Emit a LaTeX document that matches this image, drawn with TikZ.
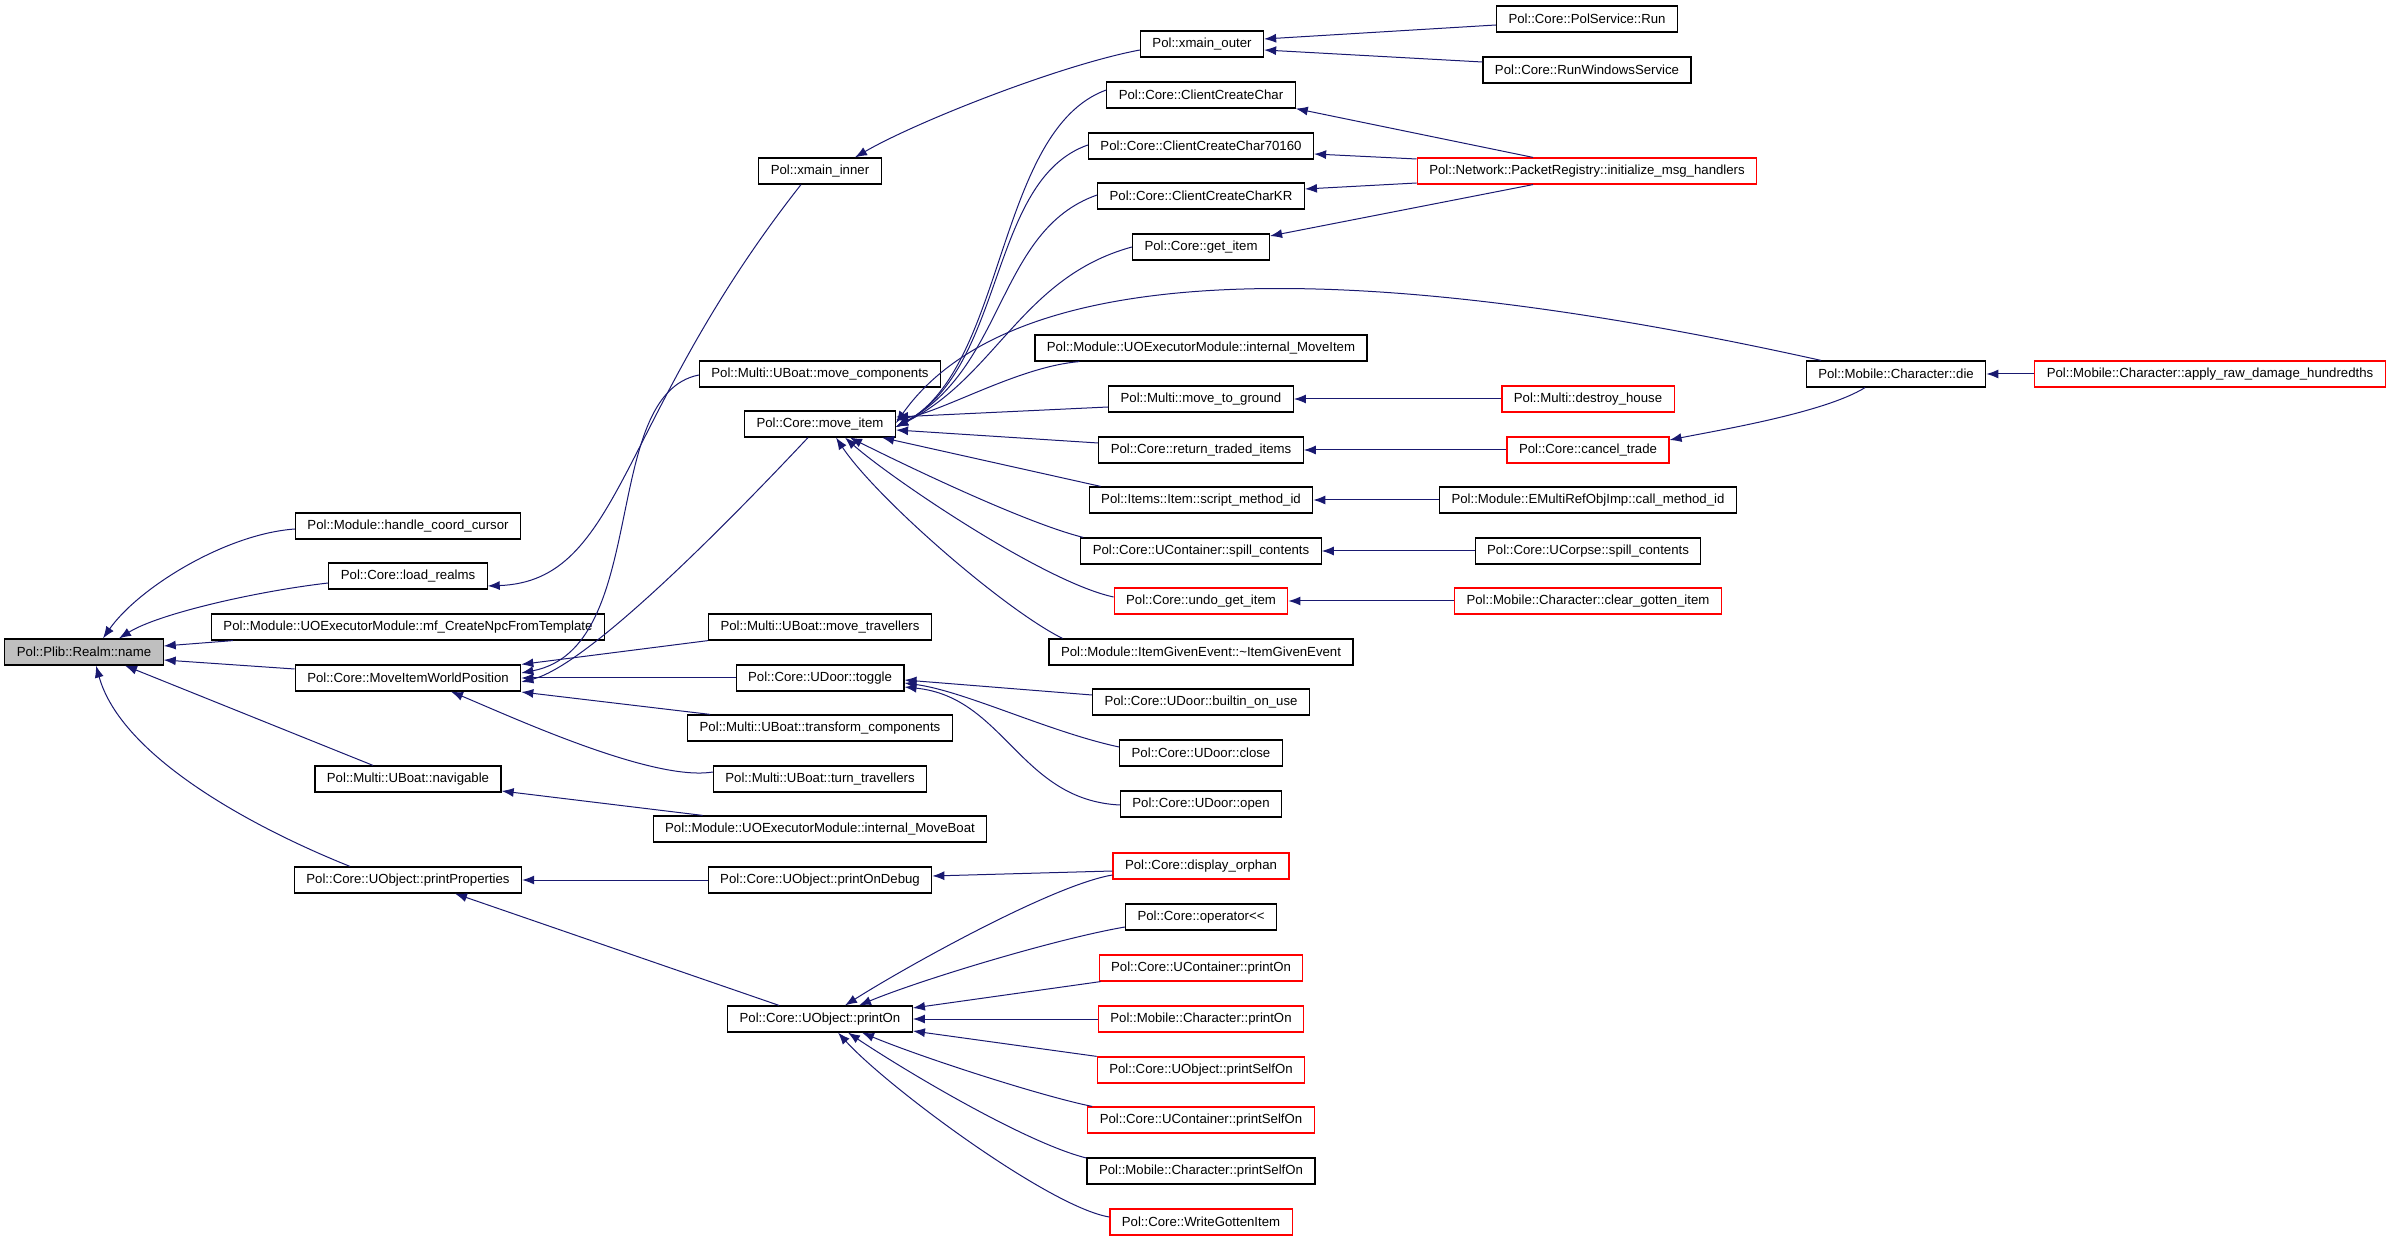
\documentclass[tikz,border=0pt]{standalone}
\usepackage{fontspec}
\setmainfont{Liberation Sans}
\usetikzlibrary{calc, arrows.meta}
\definecolor{edgeblue}{HTML}{191970}
\definecolor{boxred}{HTML}{FF0000}

\begin{document}
\begin{tikzpicture}[x=0.5pt, y=0.5pt,
	fn/.style={draw, line width=0.6pt, font=\fontsize{6.6}{8}\selectfont, minimum height=13pt, inner xsep=6pt, inner ysep=0pt},
	fnred/.style={fn, draw=boxred},
	>={Latex[length=6pt, width=4.5pt]},
	calls/.style={edgeblue, line width=0.5pt, <-}]
			\useasboundingbox (0,0) rectangle (2389,-1240);

			\node (realm) [fn, fill=black!25] at (84,-652) {Pol::Plib::Realm::name};

			\node (hcc) [fn] at (408,-526) {Pol::Module::handle\_coord\_cursor};
			\node (loadr) [fn] at (408,-576) {Pol::Core::load\_realms};
			\node (mfnpc) [fn] at (408,-627) {Pol::Module::UOExecutorModule::mf\_CreateNpcFromTemplate};
			\node (miwp) [fn] at (408,-678) {Pol::Core::MoveItemWorldPosition};
			\node (navig) [fn] at (408,-779) {Pol::Multi::UBoat::navigable};
			\node (pprops) [fn] at (408,-880) {Pol::Core::UObject::printProperties};

			\node (xinner) [fn] at (820,-171) {Pol::xmain\_inner};
			\node (movecomp) [fn] at (820,-374) {Pol::Multi::UBoat::move\_components};
			\node (moveitem) [fn] at (820,-424) {Pol::Core::move\_item};
			\node (movetrav) [fn] at (820,-627) {Pol::Multi::UBoat::move\_travellers};
			\node (toggle) [fn] at (820,-678) {Pol::Core::UDoor::toggle};
			\node (transf) [fn] at (820,-728) {Pol::Multi::UBoat::transform\_components};
			\node (turntrav) [fn] at (820,-779) {Pol::Multi::UBoat::turn\_travellers};
			\node (moveboat) [fn] at (820,-829) {Pol::Module::UOExecutorModule::internal\_MoveBoat};
			\node (podebug) [fn] at (820,-880) {Pol::Core::UObject::printOnDebug};
			\node (printon) [fn] at (820,-1019) {Pol::Core::UObject::printOn};

			\node (xouter) [fn] at (1202,-44) {Pol::xmain\_outer};
			\node (ccc) [fn] at (1201,-95) {Pol::Core::ClientCreateChar};
			\node (ccc70) [fn] at (1201,-146) {Pol::Core::ClientCreateChar70160};
			\node (ccckr) [fn] at (1201,-196) {Pol::Core::ClientCreateCharKR};
			\node (getitem) [fn] at (1201,-247) {Pol::Core::get\_item};
			\node (intmove) [fn] at (1201,-348) {Pol::Module::UOExecutorModule::internal\_MoveItem};
			\node (mtg) [fn] at (1201,-399) {Pol::Multi::move\_to\_ground};
			\node (rti) [fn] at (1201,-450) {Pol::Core::return\_traded\_items};
			\node (smid) [fn] at (1201,-500) {Pol::Items::Item::script\_method\_id};
			\node (cspill) [fn] at (1201,-551) {Pol::Core::UContainer::spill\_contents};
			\node (undo) [fnred] at (1201,-601) {Pol::Core::undo\_get\_item};
			\node (ige) [fn] at (1201,-652) {Pol::Module::ItemGivenEvent::\textasciitilde ItemGivenEvent};
			\node (builtin) [fn] at (1201,-702) {Pol::Core::UDoor::builtin\_on\_use};
			\node (dclose) [fn] at (1201,-753) {Pol::Core::UDoor::close};
			\node (dopen) [fn] at (1201,-804) {Pol::Core::UDoor::open};
			\node (orphan) [fnred] at (1201,-866) {Pol::Core::display\_orphan};
			\node (oplt) [fn] at (1201,-917) {Pol::Core::operator<\kern0pt<};
			\node (ucpon) [fnred] at (1201,-968) {Pol::Core::UContainer::printOn};
			\node (mcpon) [fnred] at (1201,-1019) {Pol::Mobile::Character::printOn};
			\node (uopso) [fnred] at (1201,-1070) {Pol::Core::UObject::printSelfOn};
			\node (ucpso) [fnred] at (1201,-1120) {Pol::Core::UContainer::printSelfOn};
			\node (mcpso) [fn] at (1201,-1171) {Pol::Mobile::Character::printSelfOn};
			\node (wgi) [fnred] at (1201,-1222) {Pol::Core::WriteGottenItem};

			\node (polrun) [fn] at (1587,-19) {Pol::Core::PolService::Run};
			\node (runwin) [fn] at (1587,-70) {Pol::Core::RunWindowsService};
			\node (initmsg) [fnred] at (1587,-171) {Pol::Network::PacketRegistry::initialize\_msg\_handlers};
			\node (destroy) [fnred] at (1588,-399) {Pol::Multi::destroy\_house};
			\node (canceltrade) [fnred] at (1588,-450) {Pol::Core::cancel\_trade};
			\node (callmid) [fn] at (1588,-500) {Pol::Module::EMultiRefObjImp::call\_method\_id};
			\node (corpse) [fn] at (1588,-551) {Pol::Core::UCorpse::spill\_contents};
			\node (clearg) [fnred] at (1588,-601) {Pol::Mobile::Character::clear\_gotten\_item};

			\node (die) [fn] at (1896,-374) {Pol::Mobile::Character::die};
			\node (applydmg) [fnred] at (2210,-374) {Pol::Mobile::Character::apply\_raw\_damage\_hundredths};

			\draw [calls] ($(realm.north)+(19,0)$) .. controls +(35,50) and +(-70,-5) .. ($(hcc.west)+(0,-3)$);
			\draw [calls] ($(realm.north)+(35,0)$) .. controls +(40,25) and +(-70,-8) .. ($(loadr.west)+(0,-7)$);
			\draw [calls] ($(realm.east)+(0,6)$) -- ($(mfnpc.south west)+(22,0)$);
			\draw [calls] ($(realm.east)+(0,-8)$) -- ($(miwp.west)+(0,9)$);
			\draw [calls] ($(realm.south)+(41,0)$) -- ($(navig.north)+(-35,0)$);
			\draw [calls] ($(realm.south)+(12,0)$) .. controls +(25,-90) and +(-100,40) .. ($(pprops.north)+(-58,0)$);

			\draw [calls] ($(loadr.east)+(0,-10)$) .. controls +(135,5) and +(-185,-235) .. ($(xinner.south)+(-19,0)$);
			\draw [calls] ($(xinner.north)+(35,0)$) .. controls +(60,35) and +(-80,-15) .. ($(xouter.west)+(0,-6)$);
			\draw [calls] ($(xouter.east)+(0,5)$) -- ($(polrun.west)+(0,-6)$);
			\draw [calls] ($(xouter.east)+(0,-6)$) -- ($(runwin.west)+(0,8)$);

			\draw [calls] ($(miwp.east)+(0,5)$) .. controls +(130,25) and +(-100,-20) .. ($(movecomp.west)+(0,-1)$);
			\draw [calls] ($(miwp.east)+(0,-4)$) .. controls +(60,15) and +(-110,-117) .. ($(moveitem.south)+(-12,0)$);
			\draw [calls] (miwp.north east) -- (movetrav.south west);
			\draw [calls] (miwp.east) -- (toggle.west);
			\draw [calls] ($(miwp.east)+(0,-14)$) -- ($(transf.north west)+(23,0)$);
			\draw [calls] ($(miwp.south)+(43,0)$) .. controls +(60,-25) and +(-60,-10) .. ($(turntrav.west)+(0,7)$);
			\draw [calls] ($(navig.east)+(0,-12)$) -- ($(moveboat.north west)+(50,0)$);
			\draw [calls] (pprops.east) -- (podebug.west);
			\draw [calls] ($(pprops.south)+(47,0)$) -- ($(printon.north)+(-41,0)$);

			\draw [calls] ($(moveitem.east)+(0,-3)$) .. controls +(110,60) and +(-110,-40) .. ($(ccc.west)+(0,5)$);
			\draw [calls] ($(moveitem.east)+(0,-3)$) .. controls +(110,60) and +(-100,-35) .. ($(ccc70.west)+(0,1)$);
			\draw [calls] ($(moveitem.east)+(0,-3)$) .. controls +(110,60) and +(-100,-35) .. ($(ccckr.west)+(0,1)$);
			\draw [calls] ($(moveitem.east)+(0,-3)$) .. controls +(100,50) and +(-110,-30) .. (getitem.west);
			\draw [calls] ($(moveitem.east)+(0,1)$) .. controls +(120,170) and +(-450,100) .. ($(die.north)+(-75,0)$);
			\draw [calls] ($(moveitem.east)+(0,4)$) .. controls +(50,10) and +(-60,-5) .. ($(intmove.south west)+(45,0)$);
			\draw [calls] ($(moveitem.east)+(0,7)$) -- ($(mtg.west)+(0,-8)$);
			\draw [calls] ($(moveitem.east)+(0,-6)$) -- ($(rti.west)+(0,7)$);
			\draw [calls] ($(moveitem.south east)+(-14,0)$) -- ($(smid.north west)+(12,0)$);
			\draw [calls] ($(moveitem.south)+(30,0)$) .. controls +(50,-25) and +(-60,15) .. ($(cspill.north west)+(3,0)$);
			\draw [calls] ($(moveitem.south)+(25,0)$) .. controls +(45,-40) and +(-70,15) .. ($(undo.west)+(0,4)$);
			\draw [calls] ($(moveitem.south)+(16,0)$) .. controls +(40,-60) and +(-60,30) .. ($(ige.north west)+(14,0)$);

			\draw [calls] ($(toggle.east)+(0,-2)$) -- ($(builtin.west)+(0,7)$);
			\draw [calls] ($(toggle.east)+(0,-5)$) .. controls +(60,-8) and +(-70,15) .. ($(dclose.west)+(0,6)$);
			\draw [calls] ($(toggle.east)+(0,-9)$) .. controls +(100,-10) and +(-100,5) .. ($(dopen.west)+(0,-1)$);

			\draw [calls] ($(podebug.east)+(0,4)$) -- ($(orphan.west)+(0,-5)$);
			\draw [calls] ($(printon.north)+(25,0)$) .. controls +(60,38) and +(-60,-10) .. ($(orphan.west)+(0,-9)$);
			\draw [calls] ($(printon.north)+(39,0)$) .. controls +(60,25) and +(-70,-12) .. ($(oplt.west)+(0,-10)$);
			\draw [calls] ($(printon.east)+(0,11)$) -- ($(ucpon.south west)+(2,0)$);
			\draw [calls] (printon.east) -- (mcpon.west);
			\draw [calls] ($(printon.east)+(0,-12)$) -- (uopso.north west);
			\draw [calls] ($(printon.south)+(42,0)$) .. controls +(60,-25) and +(-50,10) .. ($(ucpso.north west)+(5,0)$);
			\draw [calls] ($(printon.south)+(28,0)$) .. controls +(60,-40) and +(-60,15) .. ($(mcpso.west)+(0,13)$);
			\draw [calls] ($(printon.south)+(18,0)$) .. controls +(50,-55) and +(-60,10) .. ($(wgi.west)+(0,5)$);

			\draw [calls] (ccc.south east) -- ($(initmsg.north)+(-54,0)$);
			\draw [calls] ($(ccc70.east)+(0,-8)$) -- ($(initmsg.west)+(0,12)$);
			\draw [calls] ($(ccckr.east)+(0,7)$) -- ($(initmsg.west)+(0,-12)$);
			\draw [calls] ($(getitem.east)+(0,11)$) -- ($(initmsg.south)+(-54,0)$);
			\draw [calls] (mtg.east) -- (destroy.west);
			\draw [calls] (rti.east) -- (canceltrade.west);
			\draw [calls] (smid.east) -- (callmid.west);
			\draw [calls] (cspill.east) -- (corpse.west);
			\draw [calls] (undo.east) -- (clearg.west);
			\draw [calls] ($(canceltrade.east)+(0,10)$) .. controls +(50,10) and +(-40,-25) .. ($(die.south)+(-31,0)$);
			\draw [calls] (die.east) -- (applydmg.west);
		\end{tikzpicture}
\end{document}
